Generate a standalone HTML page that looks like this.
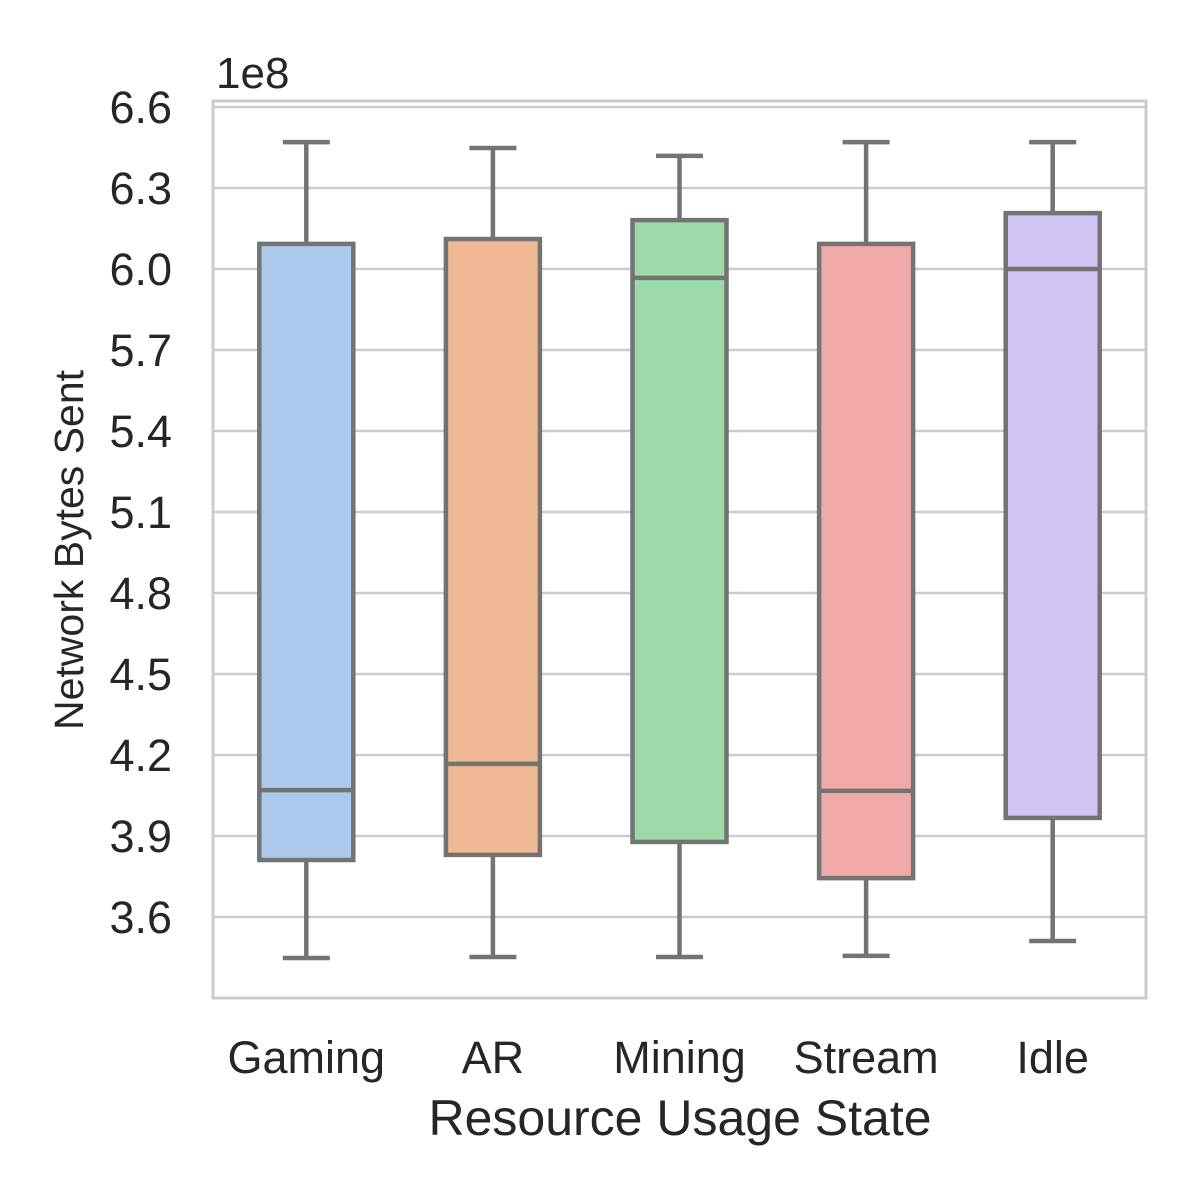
<!DOCTYPE html>
<html><head><meta charset="utf-8"><style>
html,body{margin:0;padding:0;background:#fff;}
svg{display:block;font-family:"Liberation Sans",Arial,sans-serif;}
</style></head><body>
<svg id="chart" width="1200" height="1200" viewBox="0 0 1200 1200"></svg>
<script>
const categories = ["Gaming","AR","Mining","Stream","Idle"];
const whiskerHigh = [6.470,6.448,6.419,6.470,6.470];
const q3Values = [6.093,6.111,6.181,6.093,6.207];
const medianValues = [4.070,4.167,5.967,4.067,6.000];
const q1Values = [3.811,3.830,3.878,3.744,3.967];
const whiskerLow = [3.448,3.452,3.452,3.456,3.511];
const yTicks = [3.6,3.9,4.2,4.5,4.8,5.1,5.4,5.7,6.0,6.3,6.6];
const colors = ["#abc9ec","#f0b893","#9bdbaa","#f1a9a8","#d2c4f5"];

const NS="http://www.w3.org/2000/svg";
const svg=document.getElementById('chart');
const L=213,R=1146,T=101,B=998;
const y=v=>107+(6.6-v)*270;
const step=(R-L)/categories.length;
const x=i=>L+step*(i+0.5);
const bw=94;
function mk(tag,attrs,parent){const e=document.createElementNS(NS,tag);for(const k in attrs)e.setAttribute(k,attrs[k]);(parent||svg).appendChild(e);return e;}

yTicks.forEach(t=>{
  const g=mk('line',{x1:L,x2:R,y1:y(t),y2:y(t),stroke:'#cccccc','stroke-width':2.5});
  
  
  const tl=mk('text',{x:172,y:y(t)+16,'text-anchor':'end','font-size':45,fill:'#262626'});
  tl.textContent=t.toFixed(1);
  
  
});
const frame=mk('rect',{x:L,y:T,width:R-L,height:B-T,fill:'none',stroke:'#cccccc','stroke-width':3});



categories.forEach((c,i)=>{
  const g=mk('g',{});
  
  
  const cx=x(i),st={stroke:'#737373','stroke-width':4.5,fill:'none'};
  mk('line',Object.assign({x1:cx,x2:cx,y1:y(whiskerHigh[i]),y2:y(q3Values[i])},st),g);
  mk('line',Object.assign({x1:cx,x2:cx,y1:y(q1Values[i]),y2:y(whiskerLow[i])},st),g);
  mk('line',Object.assign({x1:cx-bw/4,x2:cx+bw/4,y1:y(whiskerHigh[i]),y2:y(whiskerHigh[i])},st),g);
  mk('line',Object.assign({x1:cx-bw/4,x2:cx+bw/4,y1:y(whiskerLow[i]),y2:y(whiskerLow[i])},st),g);
  mk('rect',{x:cx-bw/2,y:y(q3Values[i]),width:bw,height:y(q1Values[i])-y(q3Values[i]),fill:colors[i],stroke:'#737373','stroke-width':4.5},g);
  mk('line',Object.assign({x1:cx-bw/2,x2:cx+bw/2,y1:y(medianValues[i]),y2:y(medianValues[i])},st),g);
  const tl=mk('text',{x:cx,y:1073,'text-anchor':'middle','font-size':45,fill:'#262626'});
  tl.textContent=c;
  
  
});

const off=mk('text',{x:216,y:88,'font-size':44,fill:'#262626'});off.textContent='1e8';


const xt=mk('text',{x:680,y:1135,'text-anchor':'middle','font-size':50,fill:'#262626'});xt.textContent='Resource Usage State';


const yt=mk('text',{x:0,y:0,'text-anchor':'middle','font-size':41,fill:'#262626',transform:'translate(83,550) rotate(-90)'});yt.textContent='Network Bytes Sent';


</script>
</body></html>
